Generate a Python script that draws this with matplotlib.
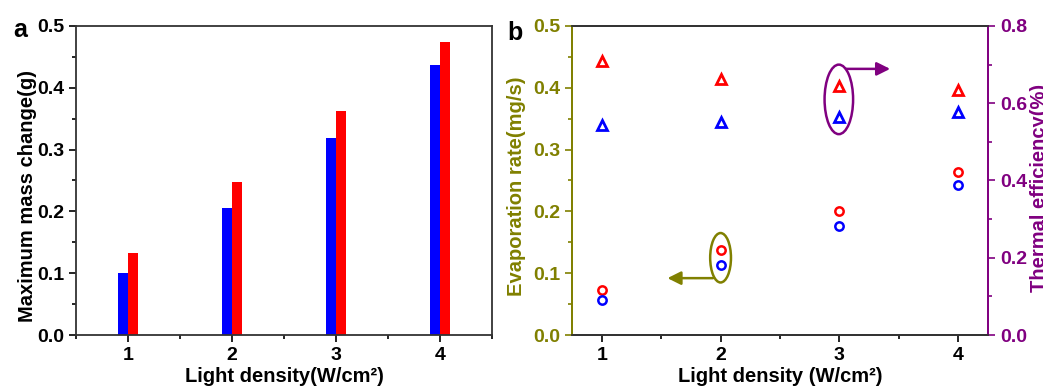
import numpy as np
import matplotlib
matplotlib.use('Agg')
import matplotlib.pyplot as plt
from matplotlib.patches import Ellipse
from matplotlib.ticker import MultipleLocator

plt.rcParams['font.family'] = ['Liberation Sans', 'DejaVu Sans']
plt.rcParams['font.weight'] = 'bold'

# data
density = [1, 2, 3, 4]
mass_blue = [0.101, 0.206, 0.319, 0.437]
mass_red = [0.132, 0.247, 0.362, 0.474]
evap_blue = [0.057, 0.114, 0.177, 0.242]
evap_red = [0.073, 0.138, 0.201, 0.264]
eff_blue = [0.543, 0.551, 0.564, 0.577]
eff_red = [0.709, 0.664, 0.645, 0.634]

OLIVE = '#808000'
PURPLE = '#800080'
SPINE = '#333333'
LABEL_SIZE = 14.5

fig = plt.figure(figsize=(10.43, 3.89), dpi=100)

# ---- panel a ----
ax = fig.add_axes([76/1043, 1-335/389, 416/1043, 309/389])
x = np.array(density)
ax.bar(x - 0.1, mass_blue, width=0.1, align='edge', color='#0000ff')
ax.bar(x, mass_red, width=0.1, align='edge', color='#ff0000')
ax.set_xlim(0.5, 4.5)
ax.set_ylim(0, 0.5)
ax.set_xticks(density)
ax.xaxis.set_minor_locator(MultipleLocator(0.5))
ax.yaxis.set_major_locator(MultipleLocator(0.1))
ax.yaxis.set_minor_locator(MultipleLocator(0.05))
ax.yaxis.set_major_formatter(plt.FormatStrFormatter('%.1f'))
ax.tick_params(which='major', direction='out', length=5, width=1.2, labelsize=14, colors='black')
ax.tick_params(which='minor', direction='out', length=3, width=1.2)
for s in ax.spines.values():
    s.set_linewidth(1.3)
    s.set_color(SPINE)
ax.set_ylabel('Maximum mass change(g)', fontsize=LABEL_SIZE, fontweight='bold')
ax.yaxis.set_label_coords(-0.094, 0.45)
ax.set_xlabel('Light density(W/cm²)', fontsize=LABEL_SIZE, fontweight='bold')
ax.xaxis.set_label_coords(0.5, -0.105)
fig.text(13/1043, 1-37/389, 'a', fontsize=18, fontweight='bold')

# ---- panel b ----
bx = fig.add_axes([572/1043, 1-335/389, 416/1043, 309/389])
bx2 = bx.twinx()
bx.plot(density, evap_red, 'o', ms=6, mfc='none', mec='#ff0000', mew=1.8)
bx.plot(density, evap_blue, 'o', ms=6, mfc='none', mec='#0000ff', mew=1.8)
bx2.plot(density, eff_red, '^', ms=7.5, mfc='none', mec='#ff0000', mew=2)
bx2.plot(density, eff_blue, '^', ms=7.5, mfc='none', mec='#0000ff', mew=2)
bx.set_xlim(0.75, 4.25)
bx.set_ylim(0, 0.5)
bx2.set_ylim(0, 0.8)
bx.set_xticks(density)
bx.xaxis.set_minor_locator(MultipleLocator(0.5))
bx.yaxis.set_major_locator(MultipleLocator(0.1))
bx.yaxis.set_minor_locator(MultipleLocator(0.05))
bx.yaxis.set_major_formatter(plt.FormatStrFormatter('%.1f'))
bx2.yaxis.set_major_locator(MultipleLocator(0.2))
bx2.yaxis.set_minor_locator(MultipleLocator(0.1))
bx2.yaxis.set_major_formatter(plt.FormatStrFormatter('%.1f'))
bx.tick_params(axis='x', which='major', direction='out', length=5, width=1.2, labelsize=14)
bx.tick_params(axis='x', which='minor', direction='out', length=3, width=1.2)
bx.tick_params(axis='y', which='major', direction='out', length=5, width=1.2, labelsize=14,
               color=OLIVE, labelcolor=OLIVE)
bx.tick_params(axis='y', which='minor', direction='out', length=3, width=1.2, color=OLIVE)
bx2.tick_params(axis='y', which='major', direction='out', length=5, width=1.2, labelsize=14,
                color=PURPLE, labelcolor=PURPLE)
bx2.tick_params(axis='y', which='minor', direction='out', length=3, width=1.2, color=PURPLE)
for a_ in (bx, bx2):
    for s in a_.spines.values():
        s.set_linewidth(1.3)
        s.set_color(SPINE)
bx.spines['left'].set_color(OLIVE)
bx2.spines['left'].set_color(OLIVE)
bx2.spines['right'].set_color(PURPLE)
bx.spines['right'].set_color(PURPLE)
bx.set_ylabel('Evaporation rate(mg/s)', fontsize=LABEL_SIZE, fontweight='bold', color=OLIVE)
bx.yaxis.set_label_coords(-0.11, 0.48)
# the reference crops this label at the right edge too
bx2.set_ylabel('Thermal efficiency(%)', fontsize=LABEL_SIZE, fontweight='bold', color=PURPLE)
bx2.yaxis.set_label_coords(1.10, 0.476)
bx.set_xlabel('Light density (W/cm²)', fontsize=LABEL_SIZE, fontweight='bold')
bx.xaxis.set_label_coords(0.5, -0.105)
fig.text(507/1043, 1-40/389, 'b', fontsize=18, fontweight='bold')

# annotations: ellipses with arrows pointing to the matching axis
bx.add_patch(Ellipse((2.0, 0.125), 0.175, 0.08, fill=False, ec=OLIVE, lw=1.8))
bx.annotate('', xy=(1.53, 0.092), xytext=(1.96, 0.092),
            arrowprops=dict(arrowstyle='-|>', color=OLIVE, lw=1.8, mutation_scale=20))
bx2.add_patch(Ellipse((2.995, 0.61), 0.24, 0.18, fill=False, ec=PURPLE, lw=1.8))
bx2.annotate('', xy=(3.45, 0.689), xytext=(3.03, 0.689),
             arrowprops=dict(arrowstyle='-|>', color=PURPLE, lw=1.8, mutation_scale=20))

plt.savefig('out.png', dpi=100)
